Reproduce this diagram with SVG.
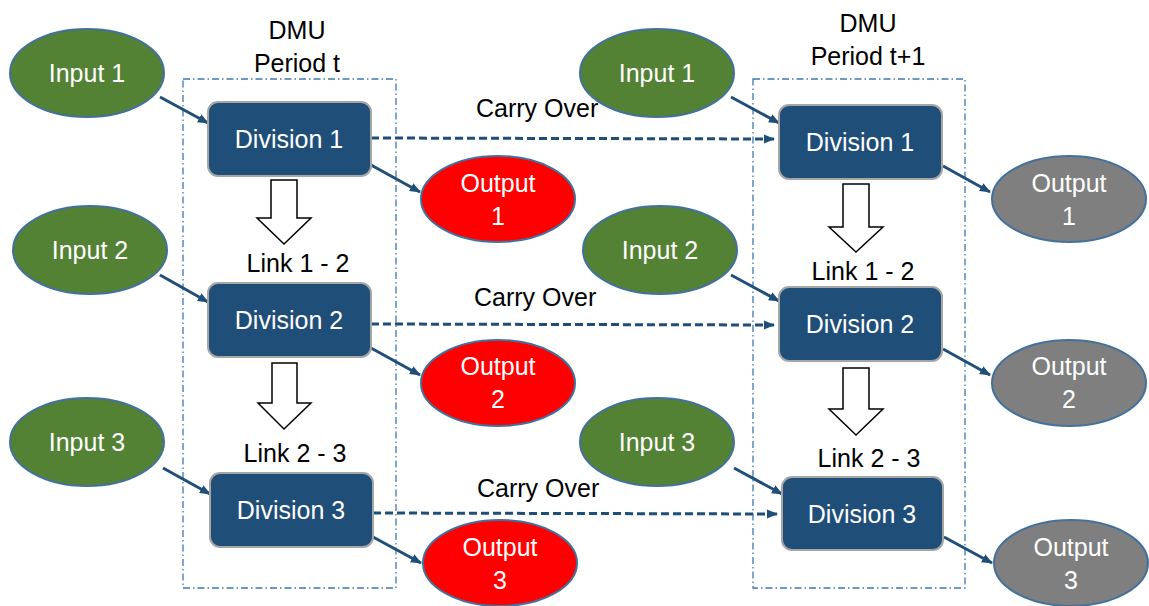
<svg xmlns="http://www.w3.org/2000/svg" width="1149" height="606" viewBox="0 0 1149 606">
  <style>
    text { font-family: "Liberation Sans", Arial, sans-serif; font-size: 25px; }
    .lbl { fill: #000000; }
    .wt { fill: #ffffff; text-anchor: middle; }
    .c { text-anchor: middle; }
    .input { fill: #548235; stroke: #41719c; stroke-width: 2; }
    .out-red { fill: #ff0000; stroke: #41719c; stroke-width: 2; }
    .out-gray { fill: #7f7f7f; stroke: #41719c; stroke-width: 2; }
    .div { fill: #1f4e79; stroke: #a6a6a6; stroke-width: 2; }
    .frame { fill: none; stroke: #3f78b0; stroke-width: 1.3; stroke-dasharray: 7 3 1.5 3; }
    .flow { stroke: #1f4e79; stroke-width: 3; fill: none; marker-end: url(#head); }
    .carry { stroke: #1f4e79; stroke-width: 3; fill: none; stroke-dasharray: 8 4; marker-end: url(#head); }
    .link { fill: #ffffff; stroke: #000000; stroke-width: 1.5; stroke-linejoin: miter; }
  </style>
  <defs>
    <marker id="head" markerUnits="userSpaceOnUse" markerWidth="11" markerHeight="10" refX="10" refY="5" orient="auto">
      <path d="M0,0.5 L11,5 L0,9.5 z" fill="#1f4e79"/>
    </marker>
  </defs>

  <rect width="1149" height="606" fill="#ffffff"/>

  <!-- period frames -->
  <g id="period-t">
    <rect class="frame" x="183" y="79" width="213" height="509"/>
    <text class="lbl c" x="297" y="39">DMU</text>
    <text class="lbl c" x="297" y="72">Period t</text>
  </g>
  <g id="period-t1">
    <rect class="frame" x="753" y="79" width="212" height="509"/>
    <text class="lbl c" x="868" y="32">DMU</text>
    <text class="lbl c" x="868" y="65">Period t+1</text>
  </g>

  <!-- connectors -->
  <g id="connectors">
    <line class="flow" x1="160" y1="97" x2="208" y2="123"/>
    <line class="flow" x1="371" y1="165" x2="420" y2="192"/>
    <line class="flow" x1="160" y1="275" x2="208" y2="302"/>
    <line class="flow" x1="371" y1="348" x2="420" y2="375"/>
    <line class="flow" x1="163" y1="468" x2="210" y2="494"/>
    <line class="flow" x1="373" y1="537" x2="421" y2="563"/>

    <line class="flow" x1="731" y1="97" x2="779" y2="123"/>
    <line class="flow" x1="943" y1="166" x2="990" y2="192"/>
    <line class="flow" x1="731" y1="275" x2="779" y2="301"/>
    <line class="flow" x1="943" y1="349" x2="990" y2="375"/>
    <line class="flow" x1="734" y1="468" x2="782" y2="494"/>
    <line class="flow" x1="944" y1="537" x2="992" y2="563"/>

    <line class="carry" x1="371" y1="138" x2="774" y2="139"/>
    <line class="carry" x1="371" y1="324" x2="774" y2="325"/>
    <line class="carry" x1="373" y1="513" x2="777" y2="514"/>
    <text class="lbl" x="476" y="117">Carry Over</text>
    <text class="lbl" x="474" y="306">Carry Over</text>
    <text class="lbl" x="477" y="497">Carry Over</text>

    <polygon class="link" points="271,180 297,180 297,218 311,218 284,244 257,218 271,218"/>
    <polygon class="link" points="272,363 297,363 297,403 311,403 284,429 258,403 272,403"/>
    <polygon class="link" points="843,184 869,184 869,227 883,227 856,252 829,227 843,227"/>
    <polygon class="link" points="843,368 869,368 869,409 883,409 856,435 829,409 843,409"/>
    <text class="lbl c" x="298" y="272">Link 1 - 2</text>
    <text class="lbl c" x="295" y="462">Link 2 - 3</text>
    <text class="lbl c" x="863" y="280">Link 1 - 2</text>
    <text class="lbl c" x="869" y="467">Link 2 - 3</text>
  </g>

  <!-- period t nodes -->
  <g id="t-input1"><ellipse class="input" cx="87" cy="73" rx="77" ry="44"/><text class="wt" x="87" y="82">Input 1</text></g>
  <g id="t-input2"><ellipse class="input" cx="90" cy="250" rx="77" ry="44"/><text class="wt" x="90" y="259">Input 2</text></g>
  <g id="t-input3"><ellipse class="input" cx="87" cy="442" rx="77" ry="44"/><text class="wt" x="87" y="451">Input 3</text></g>

  <g id="t-division1"><rect class="div" x="208" y="102" width="163" height="74" rx="10"/><text class="wt" x="289" y="148">Division 1</text></g>
  <g id="t-division2"><rect class="div" x="208" y="283" width="163" height="74" rx="10"/><text class="wt" x="289" y="329">Division 2</text></g>
  <g id="t-division3"><rect class="div" x="210" y="473" width="163" height="74" rx="10"/><text class="wt" x="291" y="519">Division 3</text></g>

  <g id="t-output1"><ellipse class="out-red" cx="498" cy="199" rx="77" ry="43"/><text class="wt" x="498" y="192">Output</text><text class="wt" x="498" y="225">1</text></g>
  <g id="t-output2"><ellipse class="out-red" cx="498" cy="383" rx="77" ry="43"/><text class="wt" x="498" y="375">Output</text><text class="wt" x="498" y="408">2</text></g>
  <g id="t-output3"><ellipse class="out-red" cx="500" cy="563" rx="77" ry="43"/><text class="wt" x="500" y="556">Output</text><text class="wt" x="500" y="589">3</text></g>

  <!-- period t+1 nodes -->
  <g id="t1-input1"><ellipse class="input" cx="657" cy="73" rx="77" ry="44"/><text class="wt" x="657" y="82">Input 1</text></g>
  <g id="t1-input2"><ellipse class="input" cx="660" cy="250" rx="77" ry="44"/><text class="wt" x="660" y="259">Input 2</text></g>
  <g id="t1-input3"><ellipse class="input" cx="657" cy="442" rx="77" ry="44"/><text class="wt" x="657" y="451">Input 3</text></g>

  <g id="t1-division1"><rect class="div" x="779" y="105" width="163" height="74" rx="10"/><text class="wt" x="860" y="151">Division 1</text></g>
  <g id="t1-division2"><rect class="div" x="779" y="287" width="163" height="74" rx="10"/><text class="wt" x="860" y="333">Division 2</text></g>
  <g id="t1-division3"><rect class="div" x="782" y="477" width="161" height="73" rx="10"/><text class="wt" x="862" y="523">Division 3</text></g>

  <g id="t1-output1"><ellipse class="out-gray" cx="1069" cy="199" rx="77" ry="43"/><text class="wt" x="1069" y="192">Output</text><text class="wt" x="1069" y="225">1</text></g>
  <g id="t1-output2"><ellipse class="out-gray" cx="1069" cy="383" rx="77" ry="43"/><text class="wt" x="1069" y="375">Output</text><text class="wt" x="1069" y="408">2</text></g>
  <g id="t1-output3"><ellipse class="out-gray" cx="1071" cy="563" rx="77" ry="43"/><text class="wt" x="1071" y="556">Output</text><text class="wt" x="1071" y="589">3</text></g>
</svg>
